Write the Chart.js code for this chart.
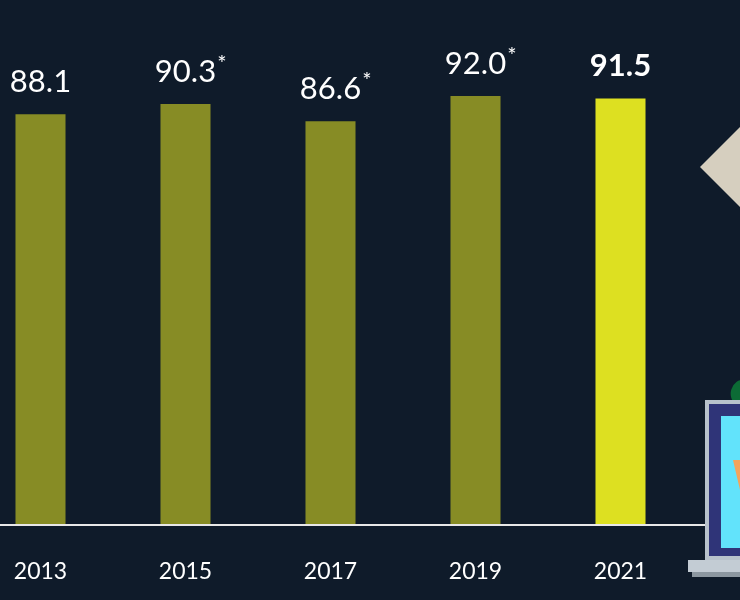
<!DOCTYPE html>
<html><head><meta charset="utf-8">
<script src="https://cdn.jsdelivr.net/npm/chart.js@4"></script>
<style>html,body{margin:0;background:#0f1b2a;overflow:hidden;width:740px;height:600px}
#wrap{position:absolute;left:-33px;top:0;width:773px;height:600px}</style></head>
<body><div id="wrap"><canvas id="c"></canvas></div>
<script>
const years = ["2013","2015","2017","2019","2021"];
const values = [88.1, 90.3, 86.6, 92.0, 91.5];
const labelTexts = ["88.1","90.3","86.6","92.0","91.5"];
const asterisks = [false, true, true, true, false];
const highlight = [false,false,false,false,true];

const deco = {
  id:'deco',
  afterDraw(ch){
    const c=ch.ctx, ys=ch.scales.y, xs=ch.scales.x;
    c.save();
    c.strokeStyle='#e8e8e8'; c.lineWidth=2;
    c.beginPath(); c.moveTo(0,ys.getPixelForValue(0)); c.lineTo(740,ys.getPixelForValue(0)); c.stroke();
    values.forEach((v,i)=>{
      const x=xs.getPixelForValue(i), y=ys.getPixelForValue(v);
      c.fillStyle='#ffffff'; c.textAlign='center'; c.textBaseline='alphabetic';
      c.font = highlight[i] ? 'bold 31px Lato' : '400 31px Lato';
      c.fillText(labelTexts[i], x, y-22);
      if(asterisks[i]){
        const w=c.measureText(labelTexts[i]).width;
        c.font='400 22px Lato'; c.textAlign='left';
        c.fillText('*', x+w/2+1, y-33);
      }
      c.font='400 23px Lato'; c.textAlign='center'; c.textBaseline='middle';
      c.fillText(years[i], x, 572);
    });
    const o=33;
    c.fillStyle='#d6cfbf';
    c.beginPath(); c.moveTo(700+o,167); c.lineTo(760+o,107); c.lineTo(800+o,167); c.lineTo(760+o,227); c.closePath(); c.fill();
    c.fillStyle='#0c6b35';
    c.beginPath(); c.ellipse(740+o,392,9,12,0.3,0,Math.PI*2); c.fill();
    c.fillStyle='#b8c2cc'; c.fillRect(705+o,400,60,160);
    c.fillStyle='#2f3478'; c.fillRect(709+o,404,60,152);
    c.fillStyle='#62e3fb'; c.fillRect(721+o,416,60,132);
    c.fillStyle='#f4a35a';
    c.beginPath(); c.moveTo(733+o,460); c.lineTo(745+o,460); c.lineTo(740+o,490); c.closePath(); c.fill();
    c.fillStyle='#c3ccd4'; c.fillRect(688+o,560,60,12);
    c.fillStyle='#8c97a0'; c.fillRect(692+o,572,60,5);
    c.restore();
  }
};

new Chart(document.getElementById('c'),{
  type:'bar',
  data:{labels:years,datasets:[{data:values,
    backgroundColor:highlight.map(h=>h?'#dde021':'#878c25'),
    barPercentage:0.345,categoryPercentage:1}]},
  options:{responsive:true,maintainAspectRatio:false,animation:false,
    layout:{padding:{left:1,right:47,top:0,bottom:75}},
    plugins:{legend:{display:false},tooltip:{enabled:false}},
    scales:{x:{display:false},y:{display:false,min:0,max:112.6}}},
  plugins:[deco]
});
</script></body></html>
